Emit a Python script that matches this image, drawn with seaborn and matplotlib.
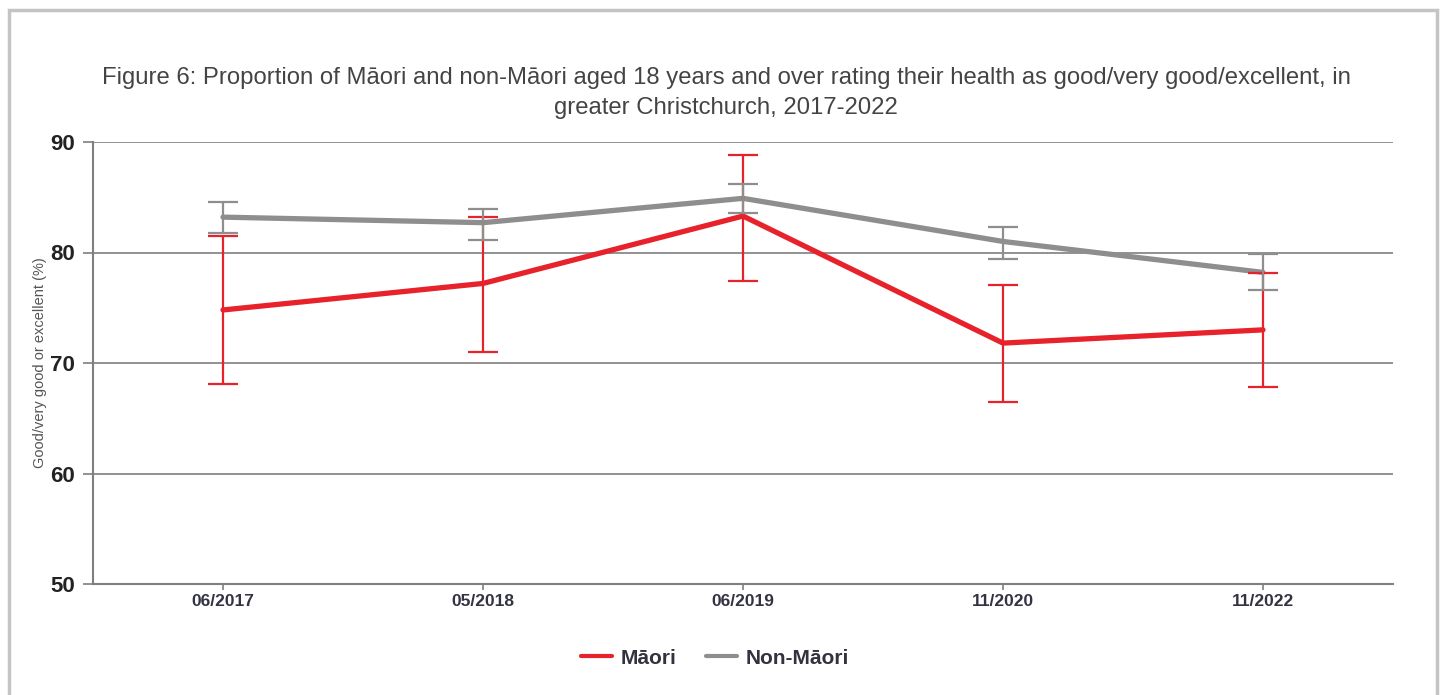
import numpy as np
import pandas as pd
import seaborn as sns
import matplotlib.pyplot as plt
from matplotlib.patches import Rectangle

# data
periods = ["06/2017", "05/2018", "06/2019", "11/2020", "11/2022"]
maori = [74.8, 77.2, 83.3, 71.8, 73.0]
maori_low = [68.1, 71.0, 77.4, 66.5, 67.8]
maori_high = [81.5, 83.2, 88.8, 77.1, 78.1]
non_maori = [83.2, 82.7, 84.9, 81.0, 78.2]
non_maori_low = [81.8, 81.1, 83.6, 79.4, 76.6]
non_maori_high = [84.6, 83.9, 86.2, 82.3, 79.9]

red = "#E8222B"
grey = "#8E8E8E"

sns.set_theme(style="white")
plt.rcParams['font.family'] = ['Liberation Sans', 'DejaVu Sans']

df = pd.DataFrame({
    "x": list(range(len(periods))) * 2,
    "value": maori + non_maori,
    "group": ["Māori"] * len(periods) + ["Non-Māori"] * len(periods),
})

fig = plt.figure(figsize=(14.44, 6.95), dpi=100)
ax = fig.add_axes([93 / 1444, 111 / 695, 1300 / 1444, 442 / 695])

# light frame around the chart
fig.patches.append(Rectangle((9 / 1444, -0.05), 1428 / 1444, 1.036, transform=fig.transFigure,
                             fill=False, edgecolor="#C4C4C4", linewidth=2.5, zorder=0))

sns.lineplot(data=df, x="x", y="value", hue="group", palette=[red, grey],
             linewidth=3.8, ax=ax, legend=False, zorder=3)

xs = np.arange(len(periods))
ax.errorbar(xs, maori, yerr=[np.array(maori) - maori_low, np.array(maori_high) - maori],
            fmt="none", ecolor=red, elinewidth=1.6, capsize=11, capthick=1.6, zorder=4)
ax.errorbar(xs, non_maori, yerr=[np.array(non_maori) - non_maori_low, np.array(non_maori_high) - non_maori],
            fmt="none", ecolor=grey, elinewidth=1.6, capsize=11, capthick=1.6, zorder=5)

ax.set_xlim(-0.5, len(periods) - 0.5)
ax.set_ylim(50, 90)
ax.set_yticks([50, 60, 70, 80, 90])
ax.set_xticks(xs)
ax.set_xticklabels(periods)
for y in [60, 70, 80, 90]:
    ax.axhline(y, color="#7F7F7F", linewidth=1.2, zorder=1)

for s in ["top", "right"]:
    ax.spines[s].set_visible(False)
for s in ["left", "bottom"]:
    ax.spines[s].set_color("#7F7F7F")
    ax.spines[s].set_linewidth(1.5)

ax.tick_params(axis="y", length=7, width=1.2, color="#7F7F7F", pad=6, left=True)
ax.tick_params(axis="x", length=4, width=1.2, color="#7F7F7F", pad=3, bottom=True)
for lab in ax.get_yticklabels():
    lab.set_fontsize(16)
    lab.set_fontweight("bold")
    lab.set_color("#222222")
for lab in ax.get_xticklabels():
    lab.set_fontsize(12.5)
    lab.set_fontweight("bold")
    lab.set_color("#333344")

ax.set_xlabel("")
ax.set_ylabel("Good/very good or excellent (%)", fontsize=10.5, color="#555555", labelpad=2)

fig.text(0.503, 0.888, "Figure 6: Proportion of Māori and non-Māori aged 18 years and over rating their health as good/very good/excellent, in",
         ha="center", va="center", fontsize=17.2, color="#444444")
fig.text(0.503, 0.845, "greater Christchurch, 2017-2022",
         ha="center", va="center", fontsize=17.2, color="#444444")

handles = [plt.Line2D([], [], color=red, linewidth=3), plt.Line2D([], [], color=grey, linewidth=3)]
leg = fig.legend(handles, ["Māori", "Non-Māori"], loc="center", bbox_to_anchor=(0.495, 0.053),
                 ncol=2, frameon=False, handlelength=1.5, handletextpad=0.4, columnspacing=1.4,
                 prop={"size": 15, "weight": "bold"})
for t in leg.get_texts():
    t.set_color("#333340")

fig.savefig("out.png", dpi=100)
